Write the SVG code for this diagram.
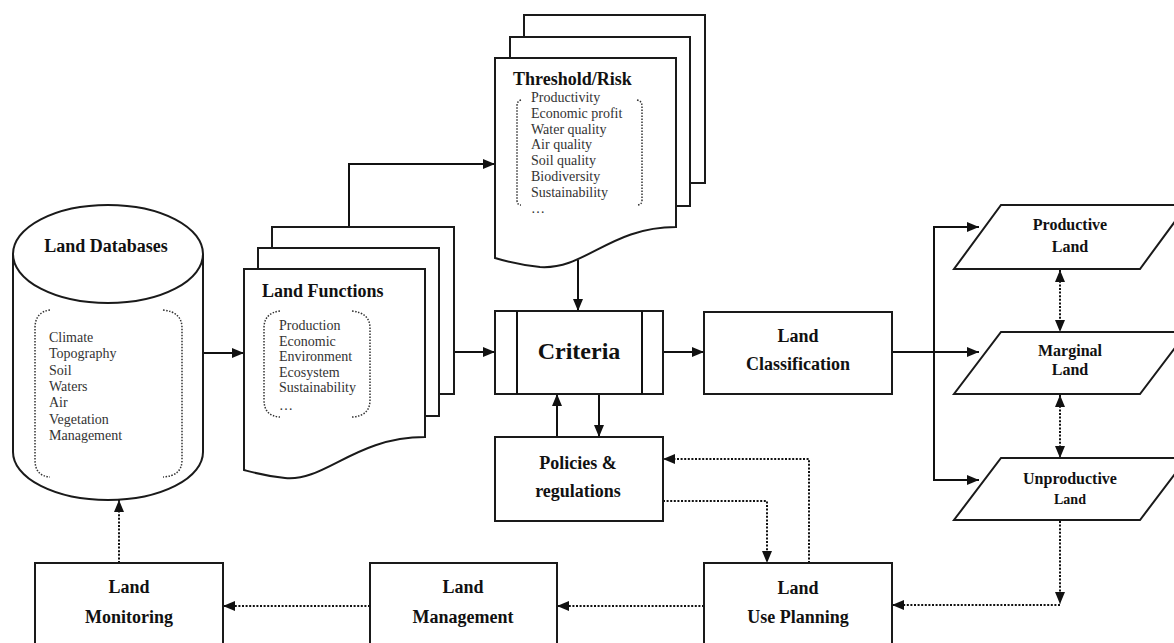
<svg xmlns="http://www.w3.org/2000/svg" width="1174" height="643" viewBox="0 0 1174 643">
<defs>
<style>
.sh{fill:#fff;stroke:#1a1a1a;stroke-width:2}
.br{fill:none;stroke:#333;stroke-width:1.5;stroke-dasharray:1.5 1.5}
.ln{fill:none;stroke:#111;stroke-width:2}
.dt{fill:none;stroke:#111;stroke-width:2;stroke-dasharray:2 1.6}
.t{font-family:"Liberation Serif","Times New Roman",serif;font-weight:bold;fill:#111;text-anchor:middle}
.it{font-family:"Liberation Serif","Times New Roman",serif;font-size:14px;fill:#333}
</style>
<marker id="ah" viewBox="0 0 12 10" refX="12" refY="5" markerWidth="12" markerHeight="10" markerUnits="userSpaceOnUse" orient="auto-start-reverse">
<path d="M0,0 L12,5 L0,10 z" fill="#111"/>
</marker>
</defs>
<rect width="1174" height="643" fill="#fff"/>

<g id="connectors">
<path class="ln" d="M203,353 H244" marker-end="url(#ah)"/>
<path class="ln" d="M349,227 V164 H495" marker-end="url(#ah)"/>
<path class="ln" d="M454,352 H495" marker-end="url(#ah)"/>
<path class="ln" d="M578,260 V311" marker-end="url(#ah)"/>
<path class="ln" d="M599,394 V437" marker-end="url(#ah)"/>
<path class="ln" d="M557,437 V394" marker-end="url(#ah)"/>
<path class="ln" d="M663,352 H704" marker-end="url(#ah)"/>
<path class="ln" d="M892,352 H979" marker-end="url(#ah)"/>
<path class="ln" d="M934,352 V227 H979" marker-end="url(#ah)"/>
<path class="ln" d="M934,352 V480 H979" marker-end="url(#ah)"/>
<path class="dt" d="M1060,270 V332" marker-start="url(#ah)" marker-end="url(#ah)"/>
<path class="dt" d="M1060,395 V458" marker-start="url(#ah)" marker-end="url(#ah)"/>
<path class="dt" d="M1060,521 V604" marker-end="url(#ah)"/>
<path class="dt" d="M1060,605 H892" marker-end="url(#ah)"/>
<path class="dt" d="M704,606 H557" marker-end="url(#ah)"/>
<path class="dt" d="M370,606 H223" marker-end="url(#ah)"/>
<path class="dt" d="M119,563 V500" marker-end="url(#ah)"/>
<path class="dt" d="M663,501 H767 V563" marker-end="url(#ah)"/>
<path class="dt" d="M809,563 V459 H663" marker-end="url(#ah)"/>
</g>

<g id="land-databases">
<path class="sh" d="M13,254 V452 A95,48 0 0 0 203,452 V254"/>
<ellipse class="sh" cx="108" cy="254" rx="95" ry="49"/>
<text class="t" x="106" y="252" font-size="18">Land Databases</text>
<path class="br" d="M50,310 Q35,312 35,328 V460 Q35,476 50,477"/>
<path class="br" d="M163,310 Q182,312 182,328 V460 Q182,476 163,477"/>
<text class="it" x="49" y="342">Climate</text>
<text class="it" x="49" y="358.3">Topography</text>
<text class="it" x="49" y="374.6">Soil</text>
<text class="it" x="49" y="390.9">Waters</text>
<text class="it" x="49" y="407.2">Air</text>
<text class="it" x="49" y="423.5">Vegetation</text>
<text class="it" x="49" y="439.8">Management</text>
</g>

<g id="land-functions">
<rect class="sh" x="272" y="227" width="182" height="167"/>
<rect class="sh" x="258" y="248" width="181" height="168"/>
<path class="sh" d="M244,269 H425 V437 C355,437 325,482 285,478 C265,476 255,473 244,470 Z"/>
<text class="t" x="262" y="297" font-size="18" style="text-anchor:start">Land Functions</text>
<path class="br" d="M280,311 Q264,313 264,328 V400 Q264,416 280,417"/>
<path class="br" d="M352,311 Q370,313 370,328 V400 Q370,416 352,417"/>
<text class="it" x="279" y="330">Production</text>
<text class="it" x="279" y="345.5">Economic</text>
<text class="it" x="279" y="361">Environment</text>
<text class="it" x="279" y="376.5">Ecosystem</text>
<text class="it" x="279" y="392">Sustainability</text>
<text class="it" x="279" y="410">…</text>
</g>

<g id="threshold-risk">
<rect class="sh" x="524" y="15" width="181" height="168"/>
<rect class="sh" x="510" y="37" width="180" height="169"/>
<path class="sh" d="M495,58 H676 V227 C610,227 585,270 540,267 C520,265 505,261 495,258 Z"/>
<text class="t" x="513" y="85" font-size="18" style="text-anchor:start">Threshold/Risk</text>
<path class="br" d="M521,100 Q517,101 517,106 V200 Q517,205 521,205"/>
<path class="br" d="M637,100 Q642,101 642,106 V200 Q642,205 637,205"/>
<text class="it" x="531" y="102">Productivity</text>
<text class="it" x="531" y="117.8">Economic profit</text>
<text class="it" x="531" y="133.6">Water quality</text>
<text class="it" x="531" y="149.4">Air quality</text>
<text class="it" x="531" y="165.2">Soil quality</text>
<text class="it" x="531" y="181">Biodiversity</text>
<text class="it" x="531" y="196.8">Sustainability</text>
<text class="it" x="531" y="213">…</text>
</g>

<g id="criteria">
<rect class="sh" x="495" y="311" width="168" height="83"/>
<path class="ln" d="M517,311 V394 M642,311 V394"/>
<text class="t" x="579" y="359" font-size="24">Criteria</text>
</g>

<g id="policies">
<rect class="sh" x="495" y="437" width="168" height="84"/>
<text class="t" x="578" y="469" font-size="18">Policies &amp;</text>
<text class="t" x="578" y="497" font-size="18">regulations</text>
</g>

<g id="land-classification">
<rect class="sh" x="704" y="312" width="188" height="82"/>
<text class="t" x="798" y="342" font-size="18">Land</text>
<text class="t" x="798" y="370" font-size="18">Classification</text>
</g>

<g id="productive-land">
<path class="sh" d="M1001,205 H1187 L1140,269 H954 Z"/>
<text class="t" x="1070" y="230" font-size="16">Productive</text>
<text class="t" x="1070" y="252" font-size="16">Land</text>
</g>

<g id="marginal-land">
<path class="sh" d="M1001,332 H1187 L1140,394 H954 Z"/>
<text class="t" x="1070" y="356" font-size="16">Marginal</text>
<text class="t" x="1070" y="375" font-size="16">Land</text>
</g>

<g id="unproductive-land">
<path class="sh" d="M1001,458 H1187 L1140,520 H954 Z"/>
<text class="t" x="1070" y="484" font-size="16">Unproductive</text>
<text class="t" x="1070" y="504" font-size="14">Land</text>
</g>

<g id="land-monitoring">
<rect class="sh" x="35" y="563" width="188" height="100"/>
<text class="t" x="129" y="593" font-size="18">Land</text>
<text class="t" x="129" y="623" font-size="18">Monitoring</text>
</g>

<g id="land-management">
<rect class="sh" x="370" y="563" width="187" height="100"/>
<text class="t" x="463" y="593" font-size="18">Land</text>
<text class="t" x="463" y="623" font-size="18">Management</text>
</g>

<g id="land-use-planning">
<rect class="sh" x="704" y="563" width="188" height="100"/>
<text class="t" x="798" y="594" font-size="18">Land</text>
<text class="t" x="798" y="623" font-size="18">Use Planning</text>
</g>
</svg>
